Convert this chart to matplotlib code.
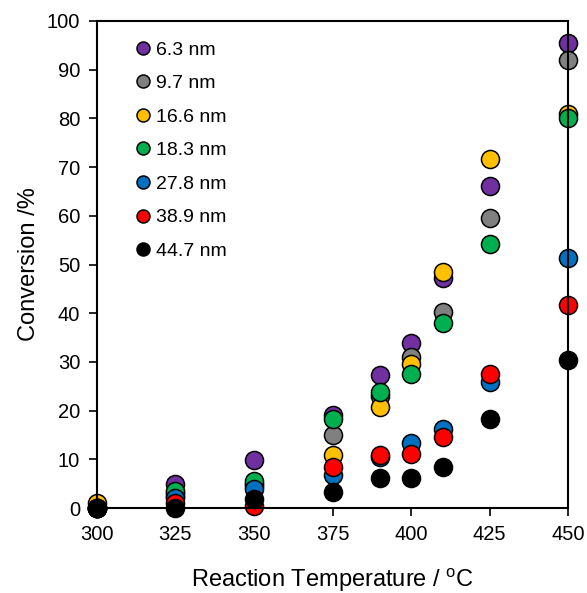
import matplotlib
matplotlib.use("Agg")
import matplotlib.pyplot as plt

plt.rcParams["font.family"] = ["Liberation Sans", "DejaVu Sans"]
plt.rcParams["mathtext.fontset"] = "custom"
plt.rcParams["mathtext.rm"] = "Liberation Sans"

temps = [300, 325, 350, 375, 390, 400, 410, 425, 450]

labels = ["6.3 nm", "9.7 nm", "16.6 nm", "18.3 nm", "27.8 nm", "38.9 nm", "44.7 nm"]
colors = ["#7030A0", "#808080", "#FFC000", "#00B050", "#0070C0", "#FF0000", "#000000"]

conv_6_3 = [0, 5.0, 9.9, 19.0, 27.3, 33.8, 47.3, 66.1, 95.5]
conv_9_7 = [0, 3.0, 5.0, 15.0, 23.0, 31.0, 40.3, 59.5, 92.0]
conv_16_6 = [1.0, 2.5, 4.5, 10.9, 20.8, 29.6, 48.4, 71.7, 81.0]
conv_18_3 = [0, 3.4, 5.6, 18.2, 23.9, 27.6, 37.9, 54.3, 80.0]
conv_27_8 = [0, 2.0, 4.0, 6.8, 10.4, 13.3, 16.2, 25.8, 51.4]
conv_38_9 = [0, 1.0, 0.4, 8.5, 10.8, 11.1, 14.5, 27.5, 41.6]
conv_44_7 = [0, 0, 1.9, 3.2, 6.1, 6.2, 8.5, 18.3, 30.3]

series = [conv_6_3, conv_9_7, conv_16_6, conv_18_3, conv_27_8, conv_38_9, conv_44_7]

fig = plt.figure(figsize=(5.87, 5.93), dpi=100)
ax = fig.add_axes([0.165, 0.1433, 0.803, 0.8213])

for vals, lab, col in zip(series, labels, colors):
    ax.plot(temps, vals, linestyle="none", marker="o", markersize=13,
            markerfacecolor=col, markeredgecolor="black", markeredgewidth=1.1,
            label=lab, clip_on=False)

ax.set_xlim(300, 450)
ax.set_ylim(0, 100)
ax.set_xticks([300, 325, 350, 375, 400, 425, 450])
ax.set_yticks(range(0, 101, 10))
ax.tick_params(direction="out", length=6, width=1.2, labelsize=14.5, pad=6)
for s in ax.spines.values():
    s.set_linewidth(1.5)

ax.set_xlabel(r"Reaction Temperature / $^{\mathrm{o}}$C", fontsize=17, labelpad=16)
ax.set_ylabel("Conversion /%", fontsize=17, labelpad=5)

ax.legend(loc="upper left", bbox_to_anchor=(0.06, 0.975), frameon=False,
          fontsize=14, markerscale=0.72, handletextpad=0.2, labelspacing=0.82,
          handlelength=1.0, borderaxespad=0)

fig.savefig("out.png", dpi=100)
